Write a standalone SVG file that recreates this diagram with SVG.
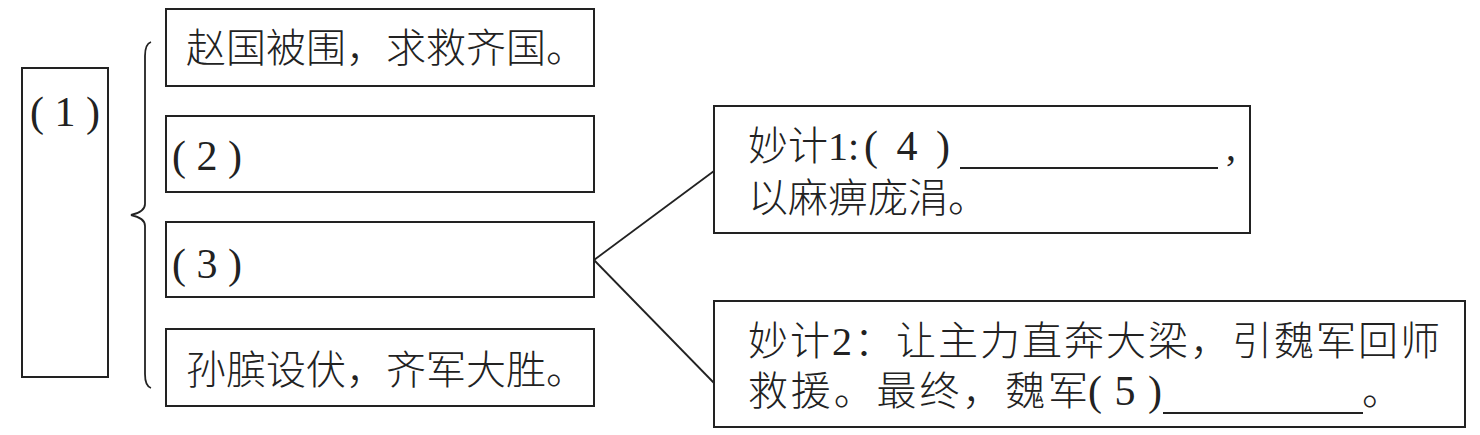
<svg xmlns="http://www.w3.org/2000/svg" width="1480" height="435" viewBox="0 0 1480 435">
<style>
.box{fill:none;stroke:#222;stroke-width:2}
.ln{fill:none;stroke:#222;stroke-width:1.8}
.t{font-family:"Liberation Serif","Noto Sans CJK SC",serif;font-size:40px;font-weight:300;fill:#222}
.n{font-family:"Liberation Serif",serif;font-size:42px;fill:#222}
</style>
<rect width="1480" height="435" fill="#fff"/>
<g id="n1"><rect class="box" x="22" y="68" width="86" height="309"/><text class="n" x="30" y="126">( 1 )</text></g>
<g id="nA"><rect class="box" x="166" y="9" width="428" height="77"/><text class="t" x="186" y="62" textLength="400">赵国被围，求救齐国。</text></g>
<g id="nB"><rect class="box" x="166" y="116" width="428" height="76"/><text class="n" x="172" y="170">( 2 )</text></g>
<g id="nC"><rect class="box" x="166" y="222" width="428" height="75"/><text class="n" x="172" y="278">( 3 )</text></g>
<g id="nD"><rect class="box" x="166" y="329" width="428" height="77"/><text class="t" x="186" y="384" textLength="400">孙膑设伏，齐军大胜。</text></g>
<g id="nE"><rect class="box" x="714" y="106" width="536" height="127"/>
<text class="t" x="748" y="160">妙计1:</text><text class="n" x="864" y="160" style="letter-spacing:4px">( 4 )</text>
<line class="ln" x1="960" y1="168" x2="1218" y2="168"/><text class="t" x="1226" y="160">,</text>
<text class="t" x="748" y="212">以麻痹庞涓。</text></g>
<g id="nF"><rect class="box" x="714" y="301" width="751" height="126"/>
<text class="t" x="748" y="355" textLength="692">妙计2：让主力直奔大梁，引魏军回师</text>
<text class="t" x="748" y="405" textLength="340">救援。最终，魏军</text><text class="n" x="1088" y="405" style="letter-spacing:1px">( 5 )</text>
<line class="ln" x1="1163" y1="413" x2="1363" y2="413"/><text class="t" x="1362" y="405">。</text></g>
<g id="connectors">
<path class="ln" d="M151,42 Q145,44 145,56 L145,204 Q145,212 131,215 Q145,218 145,226 L145,374 Q145,386 151,388"/>
<line class="ln" x1="594" y1="260" x2="714" y2="171"/>
<line class="ln" x1="594" y1="260" x2="714" y2="383"/>
</g>
</svg>
